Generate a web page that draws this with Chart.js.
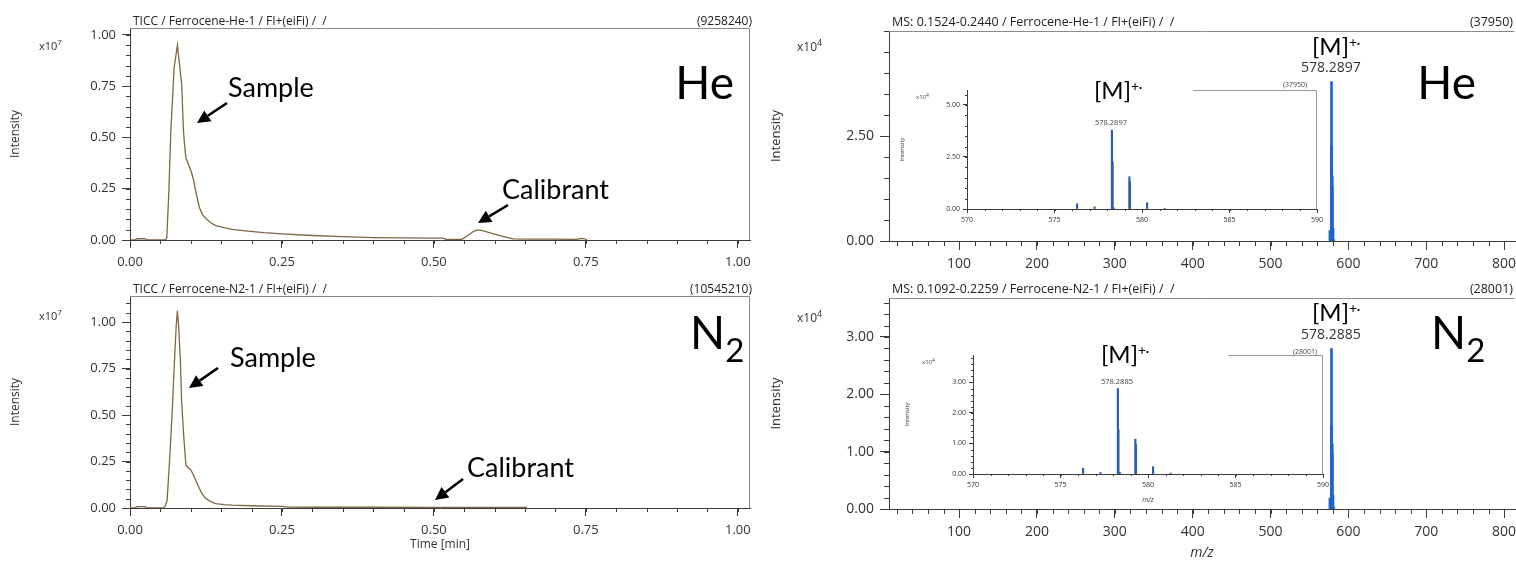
<!DOCTYPE html>
<html><head><meta charset="utf-8">
<script src="https://cdn.jsdelivr.net/npm/chart.js@4.4.1/dist/chart.umd.min.js"></script>
<style>
body{margin:0;width:1516px;height:561px;background:#fff;position:relative;overflow:hidden;font-family:"Open Sans",sans-serif;}
canvas{position:absolute;}
.t{position:absolute;white-space:nowrap;line-height:1;color:#222;font-family:"Open Sans",sans-serif;}
.a{position:absolute;white-space:nowrap;line-height:1;color:#000;font-family:Lato,sans-serif;}
.sup{position:relative;}
</style></head><body>
<canvas id="c1" width="760" height="272" style="left:0;top:0;width:760px;height:272px"></canvas>
<canvas id="c2" width="760" height="289" style="left:0;top:272px;width:760px;height:289px"></canvas>
<canvas id="c3" width="756" height="272" style="left:760px;top:0;width:756px;height:272px"></canvas>
<canvas id="c4" width="756" height="289" style="left:760px;top:272px;width:756px;height:289px"></canvas>
<canvas id="c5" width="430" height="160" style="left:895px;top:75px;width:430px;height:160px"></canvas>
<canvas id="c6" width="432" height="170" style="left:898px;top:340px;width:432px;height:170px"></canvas>

<!-- titles -->
<div class="t" style="left:133px;top:15px;font-size:12px">TICC / Ferrocene-He-1 / FI+(eiFi) /&nbsp; /</div>
<div class="t" style="right:764px;top:15px;font-size:12px">(9258240)</div>
<div class="t" style="left:133px;top:283px;font-size:12px">TICC / Ferrocene-N2-1 / FI+(eiFi) /&nbsp; /</div>
<div class="t" style="right:764px;top:283px;font-size:12px">(10545210)</div>
<div class="t" style="left:892px;top:16px;font-size:12.5px">MS: 0.1524-0.2440 / Ferrocene-He-1 / FI+(eiFi) /&nbsp; /</div>
<div class="t" style="right:3px;top:16px;font-size:12.5px">(37950)</div>
<div class="t" style="left:892px;top:283px;font-size:12.5px">MS: 0.1092-0.2259 / Ferrocene-N2-1 / FI+(eiFi) /&nbsp; /</div>
<div class="t" style="right:3px;top:283px;font-size:12.5px">(28001)</div>
<!-- multipliers -->
<div class="t" style="left:39px;top:40px;font-size:11px;color:#333">x10<span class="sup" style="font-size:8px;top:-5px">7</span></div>
<div class="t" style="left:39px;top:310px;font-size:11px;color:#333">x10<span class="sup" style="font-size:8px;top:-5px">7</span></div>
<div class="t" style="left:797px;top:41px;font-size:12px;color:#333">x10<span class="sup" style="font-size:9px;top:-5px">4</span></div>
<div class="t" style="left:797px;top:312px;font-size:12px;color:#333">x10<span class="sup" style="font-size:9px;top:-5px">4</span></div>
<div class="t" style="left:916px;top:94px;font-size:6px;color:#444">x10<span class="sup" style="font-size:5px;top:-2px">4</span></div>
<div class="t" style="left:922px;top:359px;font-size:6px;color:#444">x10<span class="sup" style="font-size:5px;top:-2px">4</span></div>
<div class="t" style="left:1283px;top:81px;font-size:7px;color:#444">(37950)</div>
<div class="t" style="left:1293px;top:348px;font-size:7px;color:#444">(28001)</div>
<div class="t" style="left:1095px;top:119px;font-size:7.5px;color:#444">578.2897</div>
<div class="t" style="left:1101px;top:378px;font-size:7.5px;color:#444">578.2885</div>
<div class="t" style="left:1301px;top:60px;font-size:14px;color:#333">578.2897</div>
<div class="t" style="left:1301px;top:327px;font-size:14px;color:#333">578.2885</div>
<!-- annotations -->
<div class="a" style="left:228px;top:73px;font-size:27px">Sample</div>
<div class="a" style="left:502px;top:175px;font-size:27px">Calibrant</div>
<div class="a" style="left:230px;top:343px;font-size:27px">Sample</div>
<div class="a" style="left:467px;top:453px;font-size:27px">Calibrant</div>
<div class="a" style="right:782px;top:59px;font-size:46px">He</div>
<div class="a" style="right:40px;top:59px;font-size:46px">He</div>
<div class="a" style="left:690px;top:309px;font-size:46px">N<span class="sup" style="font-size:33px;top:13px">2</span></div>
<div class="a" style="left:1431px;top:309px;font-size:46px">N<span class="sup" style="font-size:33px;top:13px">2</span></div>
<div class="a" style="left:1312px;top:34px;font-size:24px">[M]<span class="sup" style="font-size:14px;top:-8px">+<b style="font-size:11px">·</b></span></div>
<div class="a" style="left:1094px;top:78px;font-size:24px">[M]<span class="sup" style="font-size:14px;top:-8px">+<b style="font-size:11px">·</b></span></div>
<div class="a" style="left:1312px;top:300px;font-size:24px">[M]<span class="sup" style="font-size:14px;top:-8px">+<b style="font-size:11px">·</b></span></div>
<div class="a" style="left:1101px;top:342px;font-size:24px">[M]<span class="sup" style="font-size:14px;top:-8px">+<b style="font-size:11px">·</b></span></div>
<svg id="arrows" style="position:absolute;left:0;top:0" width="1516" height="561"></svg>

<script>
// ---------- data ----------
const ticTimeHe = [0,0.008,0.012,0.024,0.028,0.058,0.0605,0.064,0.067,0.0726,0.078,0.085,0.088,0.089,0.092,0.100,0.104,0.108,0.114,0.119,0.125,0.132,0.141,0.155,0.168,0.19,0.22,0.25,0.3,0.35,0.4,0.45,0.5,0.515,0.52,0.546,0.556,0.564,0.571,0.58,0.595,0.61,0.63,0.66,0.7,0.735,0.742,0.748,0.752];
const ticIntHe  = [0,0.001,0.006,0.006,0.001,0.001,0.01,0.24,0.52,0.84,0.951,0.76,0.53,0.49,0.40,0.34,0.30,0.24,0.16,0.125,0.105,0.085,0.07,0.06,0.052,0.045,0.036,0.030,0.022,0.016,0.012,0.010,0.009,0.009,0.003,0.003,0.022,0.040,0.049,0.046,0.032,0.020,0.005,0.004,0.004,0.003,0.008,0.006,0];
const ticTimeN2 = [0,0.008,0.012,0.024,0.028,0.055,0.058,0.061,0.065,0.069,0.073,0.076,0.078,0.080,0.083,0.085,0.0885,0.092,0.096,0.100,0.104,0.108,0.112,0.117,0.121,0.125,0.132,0.141,0.155,0.168,0.2,0.25,0.26,0.3,0.4,0.5,0.6,0.653];
const ticIntN2  = [0,0.001,0.007,0.007,0.001,0.001,0.01,0.04,0.25,0.49,0.78,0.98,1.06,0.98,0.78,0.57,0.38,0.23,0.215,0.205,0.18,0.15,0.12,0.087,0.065,0.051,0.036,0.024,0.018,0.015,0.012,0.009,0.005,0.004,0.004,0.003,0.003,0.003];

const msMzHe  = [576.29,577.29,578.28,578.32,578.40,579.28,579.31,580.29,581.30];
const msIntHe = [0.25,0.10,3.795,2.27,0.05,1.55,1.31,0.30,0.03];
const msMzN2  = [576.29,577.29,578.28,578.31,578.40,579.28,579.31,580.29,581.30];
const msIntN2 = [0.19,0.05,2.80,1.45,0.05,1.14,0.96,0.24,0.03];

const ticXTicks = [0,0.25,0.5,0.75,1.0];
const ticYTicks = [0,0.25,0.5,0.75,1.0];
const msXTicks = [100,200,300,400,500,600,700,800];
const msYTicksHe = [0,2.5];
const msYTicksN2 = [0,1,2,3];
const insetXTicks = [570,575,580,585,590];
const insetYTicksHe = [0,2.5,5];
const insetYTicksN2 = [0,1,2,3];

// ---------- helpers ----------
const FONT = "'Open Sans', sans-serif";
const AX = '#3c3c3c';
const TIC_COLOR = '#7d6845';
const MS_COLOR = '#1f64c8';
const INSET_COLOR = '#2b5ea8';

const minorPlugin = {
  id: 'minor',
  afterDraw(chart, args, o) {
    if (!o || !o.on) return;
    const {ctx, chartArea: a} = chart;
    const x = chart.scales.x, y = chart.scales.y;
    ctx.save();
    ctx.lineWidth = 1;
    ctx.strokeStyle = AX;
    ctx.beginPath();
    const start = (mn, st) => Math.ceil(mn / st - 1e-9) * st;
    if (o.xStep) {
      const s = start(x.min, o.xStep);
      for (let i = 0; ; i++) {
        const v = s + i * o.xStep; if (v > x.max + 1e-9) break;
        const p = Math.round(x.getPixelForValue(v)) + 0.5;
        ctx.moveTo(p, a.bottom); ctx.lineTo(p, a.bottom + o.xLen);
      }
    }
    if (o.yStep) {
      const s = start(y.min, o.yStep);
      for (let i = 0; ; i++) {
        const v = s + i * o.yStep; if (v > y.max + 1e-9) break;
        const p = Math.round(y.getPixelForValue(v)) + 0.5;
        ctx.moveTo(a.left, p); ctx.lineTo(a.left - o.yLen, p);
      }
    }
    ctx.stroke();
    if (o.frame) {
      ctx.strokeStyle = o.frame.color;
      ctx.beginPath();
      const fx = a.left + (a.right - a.left) * (o.frame.from || 0);
      const t = Math.round(a.top) + 0.5;
      const r = Math.round(a.right) - 0.5;
      ctx.moveTo(fx, t); ctx.lineTo(r, t);
      if (o.frame.right) ctx.lineTo(r, a.bottom);
      ctx.stroke();
    }
    ctx.restore();
  }
};
Chart.register(minorPlugin);

function xScale(o) {
  return {
    type: 'linear', position: 'bottom', min: o.min, max: o.max, offset: false,
    afterBuildTicks: s => { s.ticks = o.ticks.map(v => ({value: v})); },
    afterFit: s => { s.height = o.h; s.paddingLeft = 0; s.paddingRight = 0; },
    ticks: { callback: o.fmt, color: '#333', font: {family: FONT, size: o.fs}, padding: o.pad, maxRotation: 0, autoSkip: false },
    grid: { display: true, drawOnChartArea: false, drawTicks: true, tickLength: o.tl, tickColor: AX, offset: false },
    border: { display: true, color: AX, width: 1 },
    title: o.title ? { display: true, text: o.title, color: '#333', font: {family: FONT, size: o.tfs, style: o.italic ? 'italic' : 'normal'}, padding: {top: 0, bottom: o.tpad} } : {display: false}
  };
}
function yScale(o) {
  return {
    type: 'linear', position: 'left', min: o.min, max: o.max,
    afterBuildTicks: s => { s.ticks = o.ticks.map(v => ({value: v})); },
    afterFit: s => { s.width = o.w; s.paddingTop = 0; s.paddingBottom = 0; },
    ticks: { callback: v => v.toFixed(2), color: '#333', font: {family: FONT, size: o.fs}, padding: o.pad, autoSkip: false },
    grid: { display: true, drawOnChartArea: false, drawTicks: true, tickLength: o.tl, tickColor: AX },
    border: { display: true, color: AX, width: 1 },
    title: { display: true, text: 'Intensity', color: '#333', font: {family: FONT, size: o.tfs}, padding: {top: o.tpad, bottom: 0} }
  };
}
function baseOpts(pad, xs, ys, minor) {
  return {
    responsive: false, animation: false, devicePixelRatio: 1, events: [],
    layout: { padding: pad },
    plugins: { legend: {display: false}, tooltip: {enabled: false}, minor: minor },
    scales: { x: xs, y: ys }
  };
}
const pts = (xs, ys) => xs.map((v, i) => ({x: v, y: ys[i]}));

function ticChart(id, t, v, o) {
  new Chart(document.getElementById(id), {
    type: 'line',
    data: { datasets: [{ data: pts(t, v), borderColor: TIC_COLOR, borderWidth: 1.3, pointRadius: 0, tension: 0, fill: false }] },
    options: baseOpts(o.pad,
      xScale({min: 0, max: 1.02, ticks: ticXTicks, fmt: v => v.toFixed(2), fs: 13, pad: 6, tl: 8, h: o.xh, title: o.xtitle, tfs: 12, tpad: o.tpad}),
      yScale({min: 0, max: o.ymax, ticks: ticYTicks, fs: 13, pad: 6, tl: 8, w: 130, tfs: 12, tpad: 8}),
      {on: true, xStep: 0.05, xLen: 4, yStep: 0.05, yLen: 4, frame: {color: '#8a8a8a', right: true, from: 0}})
  });
}
function msChart(id, mz, inten, o) {
  new Chart(document.getElementById(id), {
    type: 'bar',
    data: { datasets: [{ data: pts(mz, inten), backgroundColor: o.color, borderWidth: 0, barThickness: o.bt, grouped: false }] },
    options: baseOpts(o.pad,
      xScale({min: o.xmin, max: o.xmax, ticks: o.xticks, fmt: v => String(v), fs: o.fs, pad: o.xpad, tl: o.tl, h: o.xh, title: o.xtitle, italic: true, tfs: o.tfs, tpad: o.tpad}),
      yScale({min: 0, max: o.ymax, ticks: o.yticks, fs: o.fs, pad: o.ypad, tl: o.tl, w: o.yw, tfs: o.ytfs, tpad: o.ytpad}),
      {on: true, xStep: o.xminor, xLen: o.mlen, yStep: o.yminor, yLen: o.mlen, frame: o.frame})
  });
}

// ---------- charts ----------
ticChart('c1', ticTimeHe, ticIntHe, {pad: {left: 0, top: 28, right: 10, bottom: 0}, xh: 32, ymax: 1.034});
ticChart('c2', ticTimeN2, ticIntN2, {pad: {left: 0, top: 24, right: 10, bottom: 0}, xh: 53, ymax: 1.14, xtitle: 'Time [min]', tpad: 9});

msChart('c3', msMzHe, msIntHe, {pad: {left: 0, top: 31, right: 1, bottom: 0}, color: MS_COLOR, bt: 2,
  xmin: 10, xmax: 814, xticks: msXTicks, fs: 14, xpad: 6, tl: 9, xh: 31, ymax: 5.0, yticks: msYTicksHe, ypad: 6, yw: 129, ytfs: 13, ytpad: 8,
  xminor: 20, yminor: 0.5, mlen: 5, frame: {color: '#8a8a8a', right: false, from: 0}});
msChart('c4', msMzN2, msIntN2, {pad: {left: 0, top: 26, right: 1, bottom: 0}, color: MS_COLOR, bt: 2,
  xmin: 10, xmax: 814, xticks: msXTicks, fs: 14, xpad: 6, tl: 9, xh: 52, xtitle: 'm/z', tfs: 14, tpad: 0, ymax: 3.68, yticks: msYTicksN2, ypad: 6, yw: 129, ytfs: 13, ytpad: 8,
  xminor: 20, yminor: 0.2, mlen: 5, frame: {color: '#8a8a8a', right: false, from: 0}});

msChart('c5', msMzHe, msIntHe, {pad: {left: 0, top: 15, right: 8, bottom: 0}, color: INSET_COLOR, bt: 1.5,
  xmin: 570, xmax: 590, xticks: insetXTicks, fs: 7, xpad: 3, tl: 4, xh: 26, ymax: 5.72, yticks: insetYTicksHe, ypad: 3, yw: 72, ytfs: 6, ytpad: 4,
  xminor: 1, yminor: 0.5, mlen: 2, frame: {color: '#999', right: true, from: 0.646}});
msChart('c6', msMzN2, msIntN2, {pad: {left: 0, top: 15, right: 7, bottom: 0}, color: INSET_COLOR, bt: 1.5,
  xmin: 570, xmax: 590, xticks: insetXTicks, fs: 7, xpad: 3, tl: 4, xh: 36, xtitle: 'm/z', tfs: 7, tpad: 6, ymax: 3.9, yticks: insetYTicksN2, ypad: 3, yw: 75, ytfs: 6, ytpad: 6,
  xminor: 1, yminor: 0.2, mlen: 2, frame: {color: '#999', right: true, from: 0.729}});

// ---------- arrows (annotation) ----------
const arrowTails = [[227,103],[508,205],[218,368],[463,479]];
const arrowTips  = [[197,123],[478,223],[189,388],[435,500]];
(function () {
  const svg = document.getElementById('arrows');
  let h = '';
  arrowTails.forEach((t, i) => {
    const p = arrowTips[i];
    const dx = p[0] - t[0], dy = p[1] - t[1], L = Math.hypot(dx, dy);
    const ux = dx / L, uy = dy / L, hl = 13, hw = 6.5;
    const bx = p[0] - ux * hl, by = p[1] - uy * hl;
    h += `<line x1="${t[0]}" y1="${t[1]}" x2="${bx}" y2="${by}" stroke="#000" stroke-width="2.6"/>`;
    h += `<polygon points="${p[0]},${p[1]} ${bx - uy * hw},${by + ux * hw} ${bx + uy * hw},${by - ux * hw}" fill="#000"/>`;
  });
  svg.innerHTML = h;
})();
</script>
</body></html>
